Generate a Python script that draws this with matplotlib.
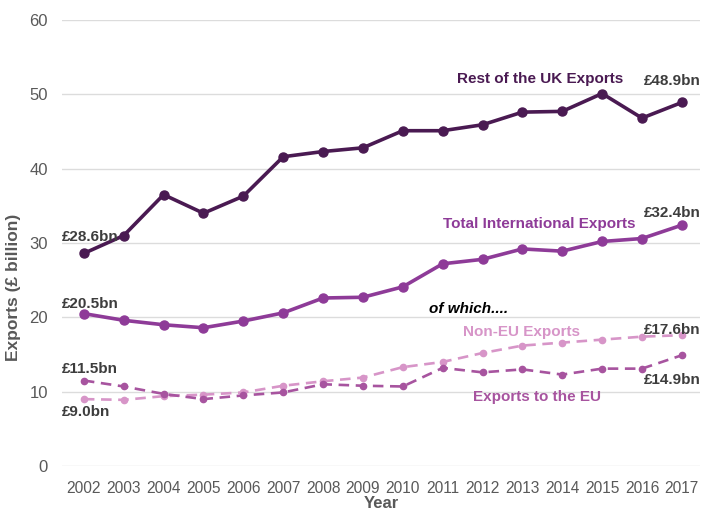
import matplotlib.pyplot as plt

years = list(range(2002, 2018))
rest_of_uk = [28.6, 31.0, 36.5, 34.0, 36.3, 41.6, 42.3, 42.8, 45.1, 45.1,
              45.9, 47.6, 47.7, 50.1, 46.8, 48.9]
total_intl = [20.5, 19.6, 19.0, 18.6, 19.5, 20.6, 22.6, 22.7, 24.1, 27.2,
              27.8, 29.2, 28.9, 30.2, 30.6, 32.4]
eu_exports = [11.5, 10.7, 9.7, 9.0, 9.5, 9.9, 11.0, 10.8, 10.7, 13.2,
              12.6, 13.0, 12.3, 13.1, 13.1, 14.9]
non_eu_exports = [9.0, 8.9, 9.4, 9.6, 9.9, 10.8, 11.4, 11.9, 13.3, 14.0,
                  15.2, 16.2, 16.6, 17.0, 17.4, 17.6]

C_RUK = "#4a1a52"
C_TOT = "#8e3b98"
C_EU = "#a7549f"
C_NEU = "#d795c8"
C_TXT = "#3d3d3d"

plt.rcParams["font.family"] = ["Liberation Sans", "DejaVu Sans"]


def main():
    fig = plt.figure(figsize=(7.04, 5.11), dpi=100)
    ax = fig.add_axes([0.088, 0.088, 0.906, 0.873])

    ax.plot(years, rest_of_uk, color=C_RUK, lw=2.6, marker="o", ms=6.5)
    ax.plot(years, total_intl, color=C_TOT, lw=2.6, marker="o", ms=6.5)
    ax.plot(years, non_eu_exports, color=C_NEU, lw=1.9, ls=(0, (4, 2.5)),
            marker="o", ms=4.5)
    ax.plot(years, eu_exports, color=C_EU, lw=1.9, ls=(0, (4, 2.5)),
            marker="o", ms=4.5)

    ax.set_xlim(2001.45, 2017.45)
    ax.set_ylim(0, 60)
    ax.set_yticks(range(0, 61, 10))
    ax.set_xticks(years)
    ax.grid(axis="y", color="#dcdcdc", lw=1)
    ax.set_axisbelow(True)
    for s in ax.spines.values():
        s.set_visible(False)
    ax.tick_params(length=0, colors="#595959")
    ax.tick_params(axis="x", labelsize=11.2, pad=11)
    ax.tick_params(axis="y", labelsize=12, pad=10)

    ax.set_ylabel("Exports (£ billion)", fontsize=12.5, fontweight="bold",
                  color="#595959")
    ax.yaxis.set_label_coords(-0.064, 0.4)
    ax.set_xlabel("Year", fontsize=12, fontweight="bold", color="#595959",
                  labelpad=0)

    # series labels
    ax.text(2011.35, 51.5, "Rest of the UK Exports", color=C_RUK,
            fontsize=11, fontweight="bold")
    ax.text(2011.0, 32.0, "Total International Exports", color=C_TOT,
            fontsize=11, fontweight="bold")
    ax.text(2010.65, 20.6, "of which....", color="black", fontsize=11,
            fontweight="bold", style="italic")
    ax.text(2011.5, 17.5, "Non-EU Exports", color=C_NEU, fontsize=11,
            fontweight="bold")
    ax.text(2011.75, 8.8, "Exports to the EU", color=C_EU, fontsize=11,
            fontweight="bold")

    # value labels
    kw = dict(color=C_TXT, fontsize=11, fontweight="bold")
    ax.text(2001.45, 30.3, "£28.6bn", **kw)
    ax.text(2001.45, 21.2, "£20.5bn", **kw)
    ax.text(2001.45, 12.5, "£11.5bn", **kw)
    ax.text(2001.45, 6.7, "£9.0bn", **kw)
    ax.text(2016.05, 51.3, "£48.9bn", **kw)
    ax.text(2016.05, 33.5, "£32.4bn", **kw)
    ax.text(2016.05, 17.7, "£17.6bn", **kw)
    ax.text(2016.05, 11.0, "£14.9bn", **kw)

    fig.savefig("out.png", dpi=100)


if __name__ == "__main__":
    main()
